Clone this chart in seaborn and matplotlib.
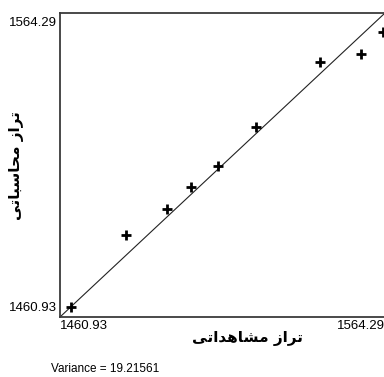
import matplotlib
matplotlib.use("Agg")
import matplotlib.pyplot as plt
import matplotlib.transforms as mtransforms
import seaborn as sns
import pandas as pd

# ---- data ----
observed = [1464.44, 1481.98, 1494.97, 1502.62, 1511.11, 1523.14, 1543.65, 1556.63, 1563.56]
computed = [1464.33, 1488.81, 1497.65, 1505.13, 1512.27, 1525.63, 1547.73, 1550.25, 1557.73]
axis_limits = [1460.93, 1564.29]
tick_labels = ["1460.93", "1564.29"]
x_label = "تراز مشاهداتی"
y_label = "تراز محاسباتی"
variance_text = "Variance = 19.21561"

# Arabic presentation forms (visual order) for rendering without a shaping engine
x_label_shaped = "\uFEF0\uFE97\uFE8D\uFEAA\uFEEB\uFE8E\uFEB8\uFEE3 \uFEAF\uFE8D\uFEAE\uFE97"
y_label_shaped = "\uFEF0\uFE97\uFE8E\uFE92\uFEB3\uFE8E\uFEA4\uFEE3 \uFEAF\uFE8D\uFEAE\uFE97"

sns.set_style("white")
plt.rcParams["font.family"] = ["Liberation Sans", "DejaVu Sans"]
plt.rcParams["text.color"] = "black"

df = pd.DataFrame({"observed": observed, "computed": computed})

fig = plt.figure(figsize=(3.84, 3.77), dpi=100)
W, H = 384, 377
left_px, right_px, top_px, bottom_px = 60, 385, 13, 317
ax = fig.add_axes([left_px / W, (H - bottom_px) / H, (right_px - left_px) / W, (bottom_px - top_px) / H])

# 1:1 line
sns.lineplot(x=axis_limits, y=axis_limits, ax=ax, color="#222222", linewidth=0.8)
# points
sns.scatterplot(data=df, x="observed", y="computed", ax=ax, marker="+", s=45,
                color="black", linewidth=2.0, zorder=3)

ax.set_xlim(axis_limits)
ax.set_ylim(axis_limits)
ax.set_xticks(axis_limits)
ax.set_xticklabels(tick_labels)
ax.set_yticks(axis_limits)
ax.set_yticklabels(tick_labels)
ax.tick_params(axis="both", length=0, labelsize=9.5, colors="black")
ax.tick_params(axis="x", pad=2)
ax.tick_params(axis="y", pad=2)

xl = ax.get_xticklabels()
xl[0].set_ha("left")
xl[1].set_ha("right")
yl = ax.get_yticklabels()
yl[0].set_va("bottom")
yl[1].set_va("top")
off_up = mtransforms.ScaledTranslation(0, 3 / 100, fig.dpi_scale_trans)
off_down = mtransforms.ScaledTranslation(0, -4 / 100, fig.dpi_scale_trans)
yl[0].set_transform(yl[0].get_transform() + off_up)
yl[1].set_transform(yl[1].get_transform() + off_down)

for side in ["left", "top", "bottom"]:
    ax.spines[side].set_color("#3a3a3a")
    ax.spines[side].set_linewidth(1.3)
ax.spines["right"].set_visible(False)

ax.set_xlabel("")
ax.set_ylabel("")
fig.text(248 / W, 1 - 338 / H, x_label_shaped, ha="center", va="center",
         fontsize=11, fontweight="bold", family=["DejaVu Sans"], color="black")
fig.text(17 / W, 1 - 166 / H, y_label_shaped, ha="center", va="center", rotation=90,
         fontsize=11, fontweight="bold", family=["DejaVu Sans"], color="black")
fig.text(51 / W, 1 - 369 / H, variance_text, ha="left", va="center", fontsize=8.5,
         color="black")

fig.savefig("out.png", dpi=100)
